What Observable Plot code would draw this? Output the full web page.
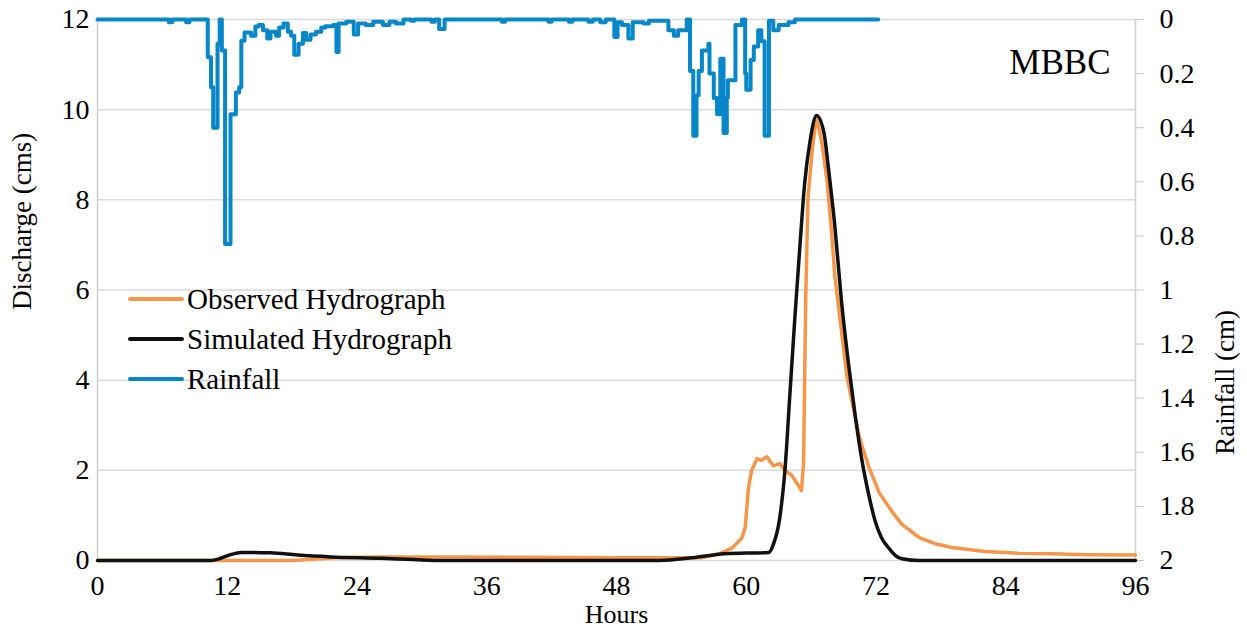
<!DOCTYPE html>
<html>
<head>
<meta charset="utf-8">
<script src="https://cdn.jsdelivr.net/npm/d3@7"></script>
<script src="https://cdn.jsdelivr.net/npm/@observablehq/plot@0.6"></script>
<style>
  html, body { margin: 0; padding: 0; background: #fff; }
  #wrap { position: relative; width: 1247px; height: 636px; font-family: "Liberation Serif", "Times New Roman", serif; }
  #wrap svg, #wrap svg text { font-family: "Liberation Serif", "Times New Roman", serif !important; }
  #legend { position: absolute; left: 128px; top: 279px; font-size: 29px; color: #000; }
  #legend .row { display: flex; align-items: center; height: 40px; }
  #legend .sw { width: 56px; height: 4px; margin-right: 3px; border-radius: 2px; }
</style>
</head>
<body>
<div id="wrap"></div>
<script>
// ---- Data ----
const xTicks = [0, 12, 24, 36, 48, 60, 72, 84, 96];
const qTicks = [0, 2, 4, 6, 8, 10, 12];
const rainTicks = [0, 0.2, 0.4, 0.6, 0.8, 1, 1.2, 1.4, 1.6, 1.8, 2];
const seriesNames = ["Observed Hydrograph", "Simulated Hydrograph", "Rainfall"];
const seriesColors = ["#F7964A", "#111111", "#0787C8"];
const stationName = "MBBC";

// Observed hydrograph (hours, cms)
const obsHours = [0, 12, 18, 19.5, 22, 26, 34, 40, 48, 54, 55.9, 57.5, 58.7, 59.6, 59.9, 60.2, 60.5, 61.0, 61.4, 61.9, 62.5, 63.1, 63.6, 64.2, 64.7, 65.1, 65.3, 65.5, 65.7, 66.1, 66.5, 67.0, 67.5, 67.9, 68.2, 68.8, 69.3, 69.8, 70.5, 71.3, 72.3, 73.5, 74.4, 76.0, 77.5, 79.0, 82.1, 85.2, 88.3, 91.4, 96];
const obsQ =     [0, 0,  0,  0.02, 0.06, 0.08, 0.08, 0.07, 0.06, 0.06, 0.06, 0.15, 0.28, 0.5, 0.73, 1.6, 2.0, 2.26, 2.22, 2.3, 2.1, 2.15, 2.0, 1.89, 1.71, 1.55, 2.15, 5.8, 8.0, 9.1, 9.85, 9.25, 8.36, 7.25, 6.3, 5.1, 4.1, 3.5, 2.7, 2.1, 1.5, 1.08, 0.8, 0.51, 0.37, 0.29, 0.2, 0.16, 0.15, 0.13, 0.12];

// Simulated hydrograph (hours, cms)
const simHours = [0, 10.5, 11.4, 12.3, 13.3, 16.0, 18.5, 21.6, 26.2, 29.3, 32, 52, 55, 58, 62.1, 62.5, 63.1, 63.6, 64.0, 64.5, 65.0, 65.4, 65.9, 66.5, 67.2, 67.6, 68.2, 68.8, 69.5, 70.1, 70.7, 71.3, 71.9, 72.5, 73.2, 73.8, 74.4, 76, 96];
const simQ =     [0, 0, 0.05, 0.13, 0.18, 0.17, 0.12, 0.08, 0.05, 0.02, 0, 0, 0.06, 0.15, 0.18, 0.35, 0.95, 2.07, 3.55, 5.4, 7.1, 8.36, 9.3, 9.87, 9.47, 8.7, 7.4, 5.77, 4.28, 3.17, 2.22, 1.49, 0.89, 0.51, 0.27, 0.11, 0.04, 0, 0];

// Rainfall (hours, cm) - step values
const rainHours = [0, 6.6, 6.9, 8.2, 8.5, 10.2, 10.5, 10.7, 11.1, 11.3, 11.5, 11.8, 12.3, 12.8, 13.1, 13.3, 13.6, 14.2, 14.6, 14.9, 15.3, 15.7, 16.0, 16.5, 16.8, 17.2, 17.6, 17.9, 18.2, 18.6, 19.0, 19.3, 19.7, 20.2, 20.7, 21.1, 21.8, 22.1, 22.3, 23.0, 23.7, 24.1, 24.8, 25.5, 26.4, 27.0, 27.6, 28.3, 29.0, 29.3, 30.9, 31.2, 31.6, 32.1, 37.4, 37.7, 41.7, 42.0, 43.6, 43.9, 45.4, 45.8, 46.5, 47.0, 47.8, 48.1, 48.5, 49.1, 49.5, 50.5, 51.0, 52.8, 53.3, 53.7, 54.5, 54.8, 55.1, 55.4, 55.6, 55.9, 56.5, 56.6, 57.0, 57.3, 57.6, 57.9, 58.2, 58.3, 59.0, 59.6, 59.9, 60.0, 60.4, 60.7, 61.1, 61.4, 61.7, 62.1, 62.5, 63.0, 63.9, 64.5, 72.2];
const rainCm =    [0, 0.01, 0, 0.01, 0, 0.14, 0.25, 0.40, 0.09, 0.0, 0.115, 0.83, 0.35, 0.27, 0.25, 0.079, 0.048, 0.06, 0.026, 0.02, 0.04, 0.07, 0.045, 0.06, 0.03, 0.015, 0.045, 0.06, 0.13, 0.09, 0.05, 0.075, 0.055, 0.045, 0.03, 0.025, 0.02, 0.12, 0.015, 0.008, 0.055, 0.015, 0.02, 0.008, 0.02, 0.008, 0.015, 0, 0.005, 0, 0.008, 0, 0.035, 0, 0.008, 0, 0.008, 0, 0.008, 0, 0.008, 0, 0.01, 0, 0.065, 0.01, 0.02, 0.07, 0.01, 0.015, 0.005, 0.04, 0.06, 0.04, 0, 0.19, 0.43, 0.28, 0.19, 0.115, 0.09, 0.2, 0.29, 0.35, 0.145, 0.42, 0.29, 0.225, 0.02, 0, 0.2, 0.26, 0.15, 0.10, 0.04, 0.08, 0.43, 0.005, 0.04, 0.02, 0.01, 0, 0];

// ---- Tables ----
const obs = obsHours.map((h, i) => ({h, q: obsQ[i]}));
const sim = simHours.map((h, i) => ({h, q: simQ[i]}));
const rain = rainHours.map((h, i) => ({h, r: rainCm[i]}));

// Rainfall axis is inverted: 0 cm at top (12 cms), 2 cm at bottom (0 cms)
const QMAX = 12, RMAX = 2;
const rainToQ = r => QMAX - r * (QMAX / RMAX);

const font = "Liberation Serif, Times New Roman, serif";

const chart = Plot.plot({
  width: 1247,
  height: 636,
  marginLeft: 97,
  marginRight: 112,
  marginTop: 19,
  marginBottom: 76,
  style: { fontFamily: font, fontSize: "28px", color: "#000", background: "#fff", overflow: "visible" },
  x: { domain: [0, 96] },
  y: { domain: [0, 12] },
  marks: [
    Plot.gridY(qTicks, { stroke: "#d9d9d9", strokeOpacity: 1, strokeWidth: 1.5 }),
    Plot.ruleX([0], { stroke: "#d0d0d0", strokeWidth: 1.5 }),
    Plot.ruleX([96], { stroke: "#d0d0d0", strokeWidth: 1.5 }),
    Plot.axisY(qTicks, { anchor: "left", tickSize: 0, tickPadding: 8, label: null, fontSize: 28 }),
    Plot.axisX(xTicks, { anchor: "bottom", tickSize: 0, tickPadding: 15, label: null, fontSize: 28 }),
    Plot.axisY(rainTicks.map(rainToQ), {
      anchor: "right", tickSize: 8, tickPadding: 16, label: null, fontSize: 28,
      stroke: "#c8c8c8", fill: "#000",
      tickFormat: v => String(Math.round((QMAX - v) / (QMAX / RMAX) * 10) / 10)
    }),
    Plot.line(rain, { x: "h", y: d => rainToQ(d.r), stroke: seriesColors[2], strokeWidth: 4, curve: "step-after" }),
    Plot.line(obs, { x: "h", y: "q", stroke: seriesColors[0], strokeWidth: 3.5, curve: "linear" }),
    Plot.line(sim, { x: "h", y: "q", stroke: seriesColors[1], strokeWidth: 3.5, curve: "monotone-x" }),
    Plot.text(["Discharge (cms)"], { frameAnchor: "left", dx: -75, dy: 20, rotate: -90, fontSize: 27, fill: "#000" }),
    Plot.text(["Rainfall (cm)"], { frameAnchor: "right", dx: 90, dy: 20, rotate: -90, fontSize: 27, fill: "#000" }),
    Plot.text(["Hours"], { frameAnchor: "bottom", dy: 62, fontSize: 26, fill: "#000" }),
    Plot.text([stationName], { frameAnchor: "top-right", dx: -25, dy: 30, fontSize: 35, fill: "#000", textAnchor: "end" })
  ]
});

const wrap = document.getElementById("wrap");
wrap.appendChild(chart);

const legend = document.createElement("div");
legend.id = "legend";
seriesNames.forEach((name, i) => {
  const row = document.createElement("div");
  row.className = "row";
  const sw = document.createElement("div");
  sw.className = "sw";
  sw.style.background = seriesColors[i];
  const tx = document.createElement("span");
  tx.textContent = name;
  row.appendChild(sw);
  row.appendChild(tx);
  legend.appendChild(row);
});
wrap.appendChild(legend);
</script>
</body>
</html>
